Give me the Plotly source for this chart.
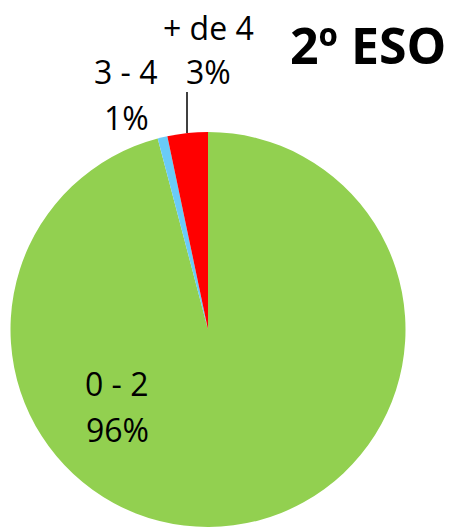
import plotly.graph_objects as go

labels = ["0 - 2", "3 - 4", "+ de 4"]
values = [95.9, 0.8, 3.3]
colors = ["#92D050", "#6ACBF7", "#FF0000"]
title_text = "2º ESO"

W, H = 452, 527
total = sum(values)
pcts = [f"{round(v * 100 / total)}%" for v in values]

fig = go.Figure(go.Pie(
    labels=labels,
    values=values,
    sort=False,
    direction="clockwise",
    rotation=0,
    marker=dict(colors=colors, line=dict(width=0)),
    textinfo="none",
    hoverinfo="label+percent",
    showlegend=False,
    domain=dict(x=[10 / W, 406 / W], y=[0, 395 / H]),
))

font = dict(family="Open Sans, Liberation Sans, sans-serif", size=32, color="#000000")

def px(x):
    return x / W

def py(y):
    return 1 - y / H

# label positions (pixels) for each slice: (x, y_label, y_pct)
label_pos = [(117, 383, 429), (126, 72, 118), (208, 28, 72)]
ann = []
for (lx, ly, lp), lab, pct in zip(label_pos, labels, pcts):
    ann.append(dict(x=px(lx), y=py(ly), xref="paper", yref="paper", text=lab,
                    showarrow=False, font=font, xanchor="center", yanchor="middle"))
    ann.append(dict(x=px(lx), y=py(lp), xref="paper", yref="paper", text=pct,
                    showarrow=False, font=font, xanchor="center", yanchor="middle"))

ann.append(dict(x=px(368), y=py(45), xref="paper", yref="paper", text=f"<b>{title_text}</b>",
                showarrow=False, font=dict(family="Open Sans, Liberation Sans, sans-serif", size=50, color="#000000"),
                xanchor="center", yanchor="middle"))

fig.update_layout(
    width=W, height=H, autosize=False,
    margin=dict(l=0, r=0, t=0, b=0),
    paper_bgcolor="white", plot_bgcolor="white",
    annotations=ann,
    shapes=[dict(type="line", xref="paper", yref="paper",
                 x0=px(187), x1=px(187), y0=py(92), y1=py(133),
                 line=dict(color="black", width=1.5))],
)

fig.write_html("out.html", config={"displayModeBar": False},
               post_script="document.body.style.margin='0';document.body.style.overflow='hidden';")
